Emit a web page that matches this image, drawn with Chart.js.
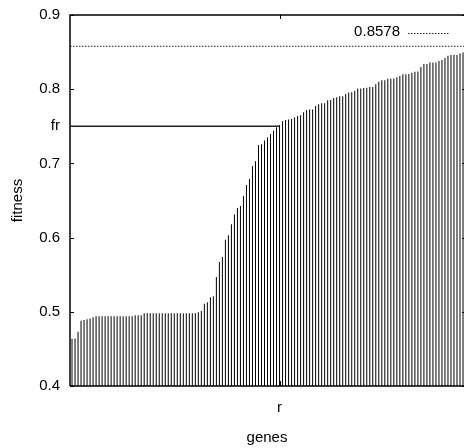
<!DOCTYPE html>
<html>
<head>
<meta charset="utf-8">
<script src="https://cdn.jsdelivr.net/npm/chart.js@4"></script>
<style>
  html, body { margin: 0; padding: 0; background: #fff; }
  #wrap { width: 464px; height: 448px; }
</style>
</head>
<body>
<div id="wrap"><canvas id="chart" width="464" height="448"></canvas></div>
<script>
// fitness of each gene, sorted ascending
var fitness = [
  0.4637, 0.464, 0.473, 0.488, 0.489, 0.490, 0.491, 0.4926, 0.494, 0.494,
  0.494, 0.494, 0.494, 0.494, 0.494, 0.494, 0.494, 0.494, 0.494, 0.494,
  0.494, 0.4955, 0.4955, 0.4955, 0.498, 0.498, 0.498, 0.498, 0.498, 0.498,
  0.498, 0.498, 0.498, 0.498, 0.498, 0.498, 0.498, 0.498, 0.498, 0.498,
  0.498, 0.498, 0.4995, 0.501, 0.511, 0.513, 0.5195, 0.521, 0.547, 0.567,
  0.574, 0.597, 0.603, 0.618, 0.631, 0.640, 0.6426, 0.656, 0.671, 0.679,
  0.6965, 0.703, 0.7248, 0.7257, 0.731, 0.735, 0.7396, 0.744, 0.7486, 0.7517,
  0.757, 0.7585, 0.759, 0.760, 0.7618, 0.764, 0.7648, 0.769, 0.772, 0.7728,
  0.7728, 0.7774, 0.7796, 0.781, 0.781, 0.785, 0.7854, 0.788, 0.789, 0.7906,
  0.7906, 0.7935, 0.7957, 0.796, 0.798, 0.801, 0.801, 0.8015, 0.802, 0.803,
  0.803, 0.8066, 0.810, 0.812, 0.812, 0.814, 0.814, 0.8145, 0.816, 0.8178,
  0.820, 0.820, 0.8205, 0.8223, 0.8236, 0.824, 0.830, 0.834, 0.834, 0.836,
  0.836, 0.836, 0.838, 0.8395, 0.842, 0.845, 0.846, 0.846, 0.846, 0.848,
  0.8496
];

var best = 0.8578;      // dotted line / key
var fr = 0.75;          // fitness threshold
var rIndex = 69;        // gene index where fitness reaches fr

var yTicks = [0.4, 0.5, 0.6, 0.7, 0.75, 0.8, 0.9];
var yTickLabels = ["0.4", "0.5", "0.6", "0.7", "fr", "0.8", "0.9"];
var xTicks = [rIndex];
var xTickLabels = ["r"];

var xMin = -0.67;
var xMax = 130.33;

Chart.defaults.font.family = "'Liberation Sans', Arial, sans-serif";
Chart.defaults.font.size = 15;
Chart.defaults.color = "#000";

var points = fitness.map(function (v, i) { return { x: i, y: v }; });

// gnuplot-like frame with inward ticks + key
var framePlugin = {
  id: "frame",
  afterDatasetsDraw: function (chart) {
    var ctx = chart.ctx;
    var a = chart.chartArea;
    var ys = chart.scales.y;
    var xs = chart.scales.x;
    ctx.save();
    ctx.strokeStyle = "#000";
    ctx.lineWidth = 1.5;
    ctx.setLineDash([]);
    ctx.beginPath();
    ctx.moveTo(a.left, a.bottom);
    ctx.lineTo(a.left, a.top);
    ctx.lineTo(a.right + 2, a.top);
    ctx.moveTo(a.left, a.bottom);
    ctx.lineTo(a.right + 2, a.bottom);
    ctx.stroke();

    ctx.lineWidth = 1;
    ctx.beginPath();
    yTicks.forEach(function (v) {
      if (v === fr) return;
      var py = Math.round(ys.getPixelForValue(v)) + 0.5;
      ctx.moveTo(a.left, py);
      ctx.lineTo(a.left + 4, py);
      ctx.moveTo(a.right, py);
      ctx.lineTo(a.right - 2, py);
    });
    xTicks.forEach(function (v) {
      var px = Math.round(xs.getPixelForValue(v)) + 0.5;
      ctx.moveTo(px, a.top);
      ctx.lineTo(px, a.top + 4);
      ctx.moveTo(px, a.bottom);
      ctx.lineTo(px, a.bottom - 5);
    });
    ctx.stroke();

    // key
    ctx.font = "15px 'Liberation Sans', Arial, sans-serif";
    ctx.fillStyle = "#000";
    ctx.textAlign = "right";
    ctx.textBaseline = "middle";
    ctx.fillText(String(best), a.right - 64, a.top + 17);
    ctx.strokeStyle = "#222";
    ctx.lineWidth = 1;
    ctx.setLineDash([1.5, 1.5]);
    ctx.beginPath();
    ctx.moveTo(a.right - 56, a.top + 18.5);
    ctx.lineTo(a.right - 15, a.top + 18.5);
    ctx.stroke();
    ctx.restore();
  }
};

var ctx = document.getElementById("chart").getContext("2d");
var chart = new Chart(ctx, {
  type: "bar",
  data: {
    datasets: [
      {
        label: "fitness",
        data: points,
        backgroundColor: "#000",
        borderWidth: 0,
        barThickness: 1,
        inflateAmount: 0,
        base: 0.4,
        clip: false,
        order: 2
      },
      {
        type: "line",
        label: "fr",
        data: [{ x: xMin, y: fr }, { x: rIndex, y: fr }],
        borderColor: "#222",
        borderWidth: 1.5,
        pointRadius: 0,
        fill: false,
        order: 1
      },
      {
        type: "line",
        label: String(best),
        data: [{ x: xMin, y: best }, { x: xMax, y: best }],
        borderColor: "#222",
        borderWidth: 1,
        borderDash: [1.5, 1.5],
        pointRadius: 0,
        fill: false,
        order: 0
      }
    ]
  },
  options: {
    responsive: false,
    animation: false,
    layout: { padding: { top: 15, right: 0, left: 0, bottom: 0 } },
    plugins: {
      legend: { display: false },
      tooltip: { enabled: false }
    },
    scales: {
      x: {
        type: "linear",
        min: xMin,
        max: xMax,
        offset: false,
        grid: { display: false, drawTicks: false, offset: false },
        border: { display: false },
        afterBuildTicks: function (scale) {
          scale.ticks = xTicks.map(function (v) { return { value: v }; });
        },
        afterFit: function (scale) {
          scale.height = 62;
          scale.paddingLeft = 0;
          scale.paddingRight = 0;
        },
        ticks: {
          padding: 13,
          maxRotation: 0,
          autoSkip: false,
          callback: function (value) {
            var i = xTicks.indexOf(value);
            return i >= 0 ? xTickLabels[i] : "";
          }
        },
        title: {
          display: true,
          text: "genes",
          font: { size: 15 },
          padding: { top: 0, bottom: 1 }
        }
      },
      y: {
        type: "linear",
        min: 0.4,
        max: 0.9,
        grid: { display: false, drawTicks: false },
        border: { display: false },
        afterBuildTicks: function (scale) {
          scale.ticks = yTicks.map(function (v) { return { value: v }; });
        },
        afterFit: function (scale) {
          scale.width = 70;
          scale.paddingTop = 0;
          scale.paddingBottom = 0;
        },
        ticks: {
          padding: 10,
          autoSkip: false,
          callback: function (value) {
            var i = yTicks.indexOf(value);
            return i >= 0 ? yTickLabels[i] : "";
          }
        },
        title: {
          display: true,
          text: "fitness",
          font: { size: 15 },
          padding: { top: 9, bottom: 0 }
        }
      }
    }
  },
  plugins: [framePlugin]
});
</script>
</body>
</html>
